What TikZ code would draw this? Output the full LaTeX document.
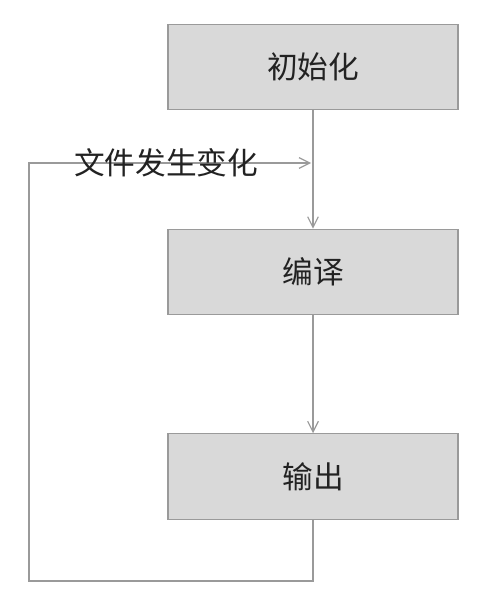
\documentclass[tikz,border=0pt]{standalone}
\usepackage{fontspec}
\setmainfont{Noto Sans CJK SC}
\usetikzlibrary{arrows.meta}
\definecolor{linea}{HTML}{9A9A9A}
\definecolor{relleno}{HTML}{D9D9D9}
\definecolor{texto}{HTML}{222222}
\begin{document}
\begin{tikzpicture}[x=0.75pt, y=-0.75pt,
  paso/.style={draw=linea, fill=relleno, line width=0.9pt, minimum width=217.5pt,
    minimum height=64pt, inner sep=0pt, font=\fontsize{23}{26}\selectfont, text=texto},
  flecha/.style={draw=linea, line width=0.9pt, -{Straight Barb[length=8pt, width=8pt]}}]
  \useasboundingbox (0,0) rectangle (480,598);

  % Pasos
  \node[paso] (init) at (313,67) {初始化};
  \node[paso] (compile) at (313,272) {编译};
  \node[paso] (output) at (313,476.5) {输出};

  % Bucle
  \coordinate (entry) at (311,163);
  \draw[flecha] (output.south) -- (313,581) -- (29,581) -- (29,163) -- (entry);
  \node[font=\fontsize{23}{26}\selectfont, text=texto] (change) at (166,163) {文件发生变化};

  % Flechas
  \draw[flecha] (init) -- (compile);
  \draw[flecha] (compile) -- (output);
\end{tikzpicture}
\end{document}
